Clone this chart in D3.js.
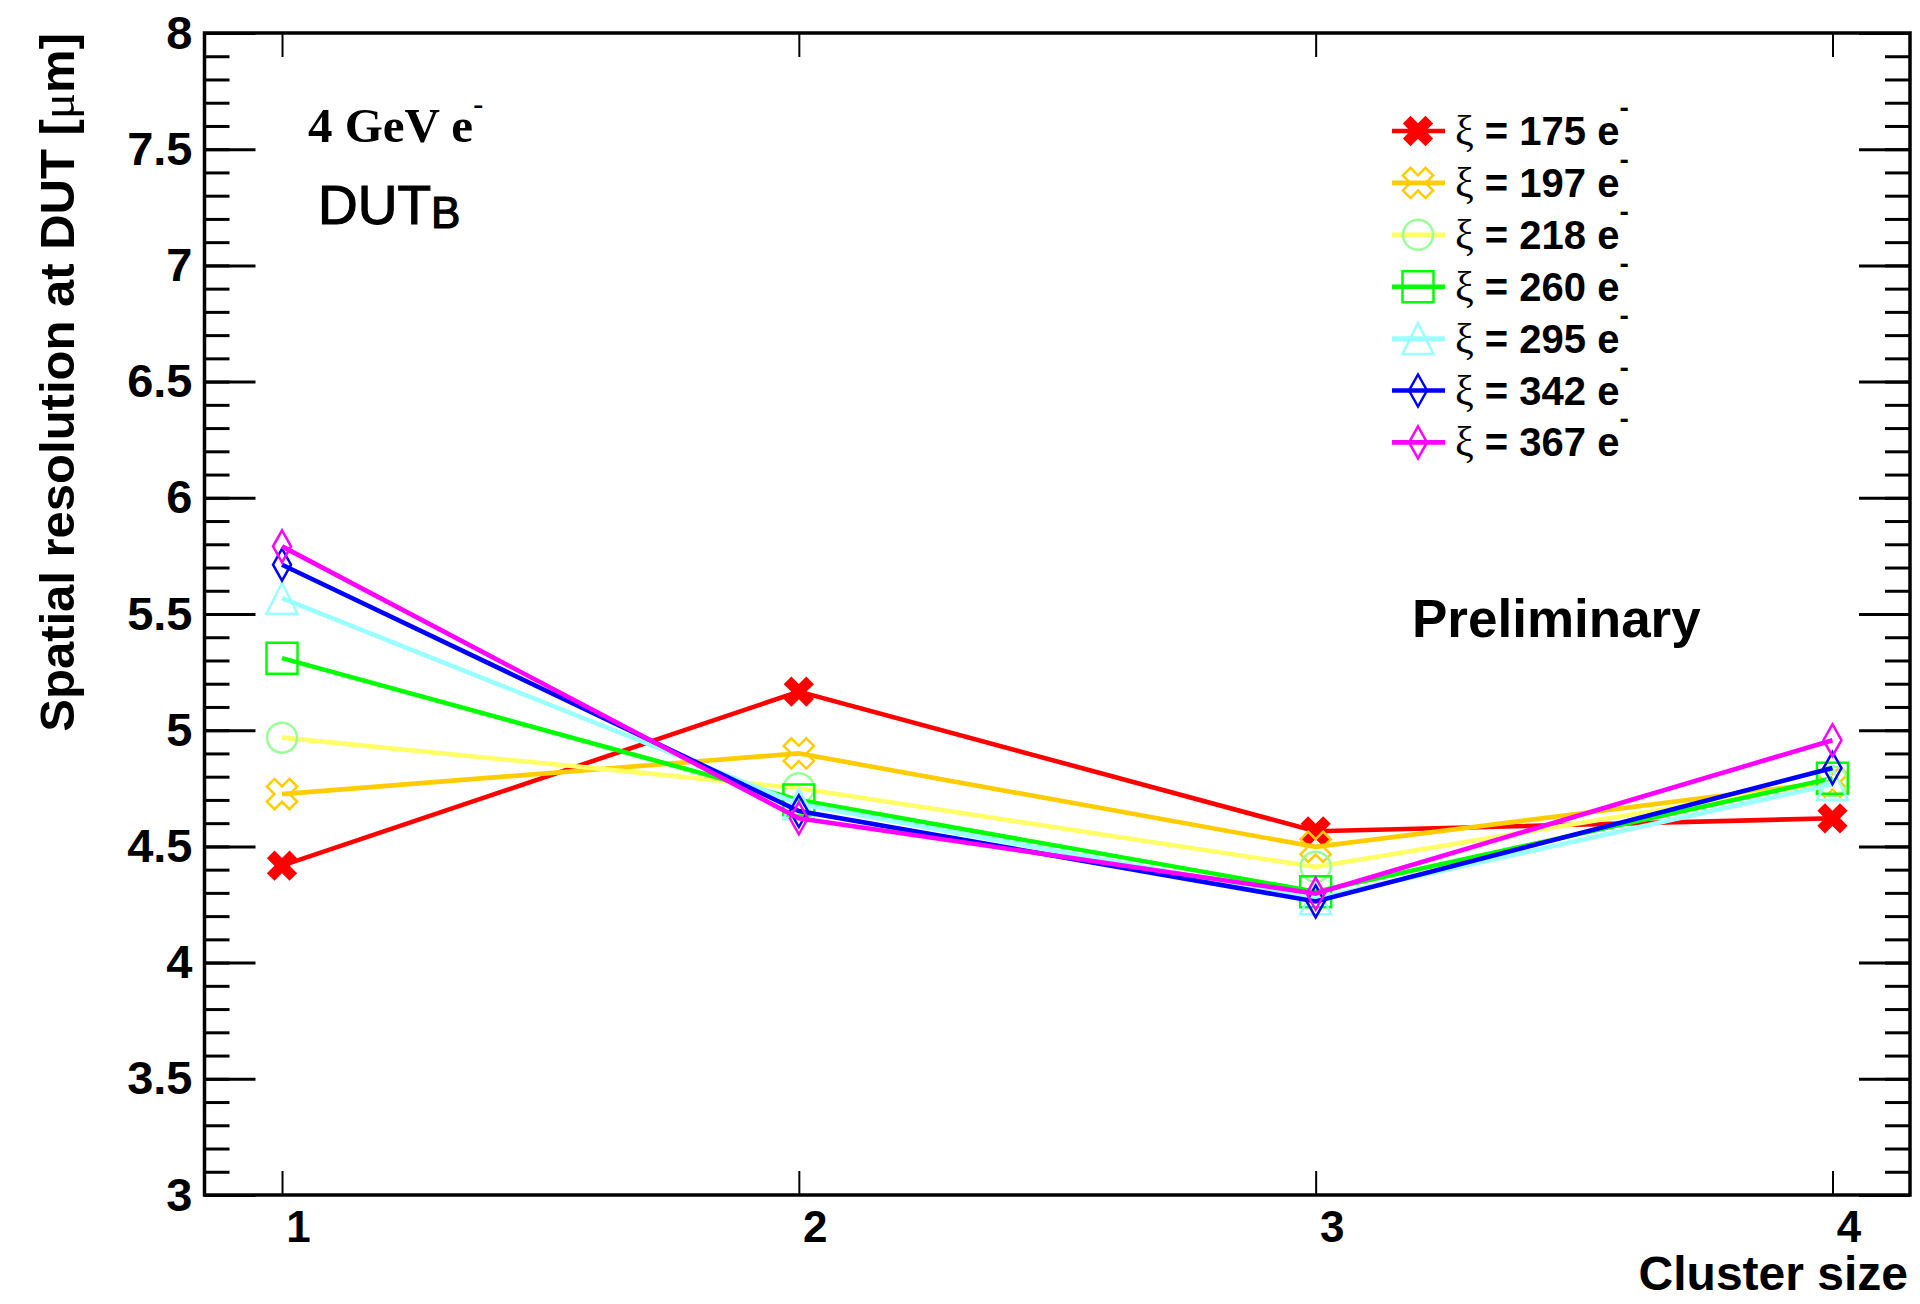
<!DOCTYPE html>
<html>
<head>
<meta charset="utf-8">
<script src="https://cdn.jsdelivr.net/npm/d3@7"></script>
<style>
body { margin: 0; background: #fff; }
</style>
</head>
<body>
<div id="chart"></div>
<script>
// cluster size on x, spatial resolution (um) on y
const clusterSizes = [1, 2, 3, 4];
const thresholds = ["175", "197", "218", "260", "295", "342", "367"];
const res175 = [4.417, 5.166, 4.565, 4.621];
const res197 = [4.725, 4.900, 4.498, 4.778];
const res218 = [4.968, 4.750, 4.412, 4.780];
const res260 = [5.310, 4.700, 4.305, 4.793];
const res295 = [5.568, 4.683, 4.275, 4.767];
const res342 = [5.712, 4.652, 4.263, 4.837];
const res367 = [5.791, 4.621, 4.297, 4.957];
const lineColors = ["#ff0000", "#ffcc00", "#ffff66", "#00ff00", "#99ffff", "#0000ff", "#ff00ff"];
const markerColors = ["#ff0000", "#ffcc00", "#99ff99", "#00ff00", "#99ffff", "#0000ff", "#ff00ff"];
const markerTypes = ["xfull", "xopen", "circle", "square", "triangle", "diamond", "diamond"];
const yTickValues = [3, 3.5, 4, 4.5, 5, 5.5, 6, 6.5, 7, 7.5, 8];
const yTickLabels = ["3", "3.5", "4", "4.5", "5", "5.5", "6", "6.5", "7", "7.5", "8"];
const xTickLabels = ["1", "2", "3", "4"];

const allRes = [res175, res197, res218, res260, res295, res342, res367];

const SANS = "'Liberation Sans', Arial, sans-serif";
const SERIF = "'Liberation Serif', 'Times New Roman', serif";

let svg = d3.select("#chart").append("svg").attr("width", 1920).attr("height", 1304);

let x_scale = d3.scaleLinear().domain([0.85, 4.15]).range([204.5, 1910]);
let y_scale = d3.scaleLinear().domain([3, 8]).range([1195, 33]);

function boldText(sel, size) {
  sel.style("font-family", SANS).style("font-weight", "bold").style("font-size", size + "px").attr("fill", "#000");
}

// y axis, left: minor then major ticks pointing inward
svg.append("g").attr("transform", "translate(204.5,0)")
  .call(d3.axisLeft(y_scale).tickValues(y_scale.ticks(50)).tickSizeInner(-25).tickSizeOuter(0).tickFormat(""))
  .call(g => g.selectAll("line").attr("stroke", "#000").attr("stroke-width", 3));
svg.append("g").attr("transform", "translate(204.5,0)")
  .call(d3.axisLeft(y_scale).tickValues(yTickValues).tickSizeInner(-51).tickSizeOuter(0).tickPadding(12)
    .tickFormat((d, i) => yTickLabels[i]))
  .call(g => g.selectAll("line").attr("stroke", "#000").attr("stroke-width", 3))
  .call(g => boldText(g.selectAll("text"), 47));

// y axis, right (mirror)
svg.append("g").attr("transform", "translate(1910,0)")
  .call(d3.axisRight(y_scale).tickValues(y_scale.ticks(50)).tickSizeInner(-25).tickSizeOuter(0).tickFormat(""))
  .call(g => g.selectAll("line").attr("stroke", "#000").attr("stroke-width", 3));
svg.append("g").attr("transform", "translate(1910,0)")
  .call(d3.axisRight(y_scale).tickValues(yTickValues).tickSizeInner(-51).tickSizeOuter(0).tickFormat(""))
  .call(g => g.selectAll("line").attr("stroke", "#000").attr("stroke-width", 3));

// x axis bottom and top
svg.append("g").attr("transform", "translate(0,1195)")
  .call(d3.axisBottom(x_scale).tickValues(clusterSizes).tickSizeInner(-24).tickSizeOuter(0).tickPadding(16)
    .tickFormat((d, i) => xTickLabels[i]))
  .call(g => g.selectAll("line").attr("stroke", "#000").attr("stroke-width", 2))
  .call(g => boldText(g.selectAll("text").attr("x", 16), 44));
svg.append("g").attr("transform", "translate(0,33)")
  .call(d3.axisTop(x_scale).tickValues(clusterSizes).tickSizeInner(-24).tickSizeOuter(0).tickFormat(""))
  .call(g => g.selectAll("line").attr("stroke", "#000").attr("stroke-width", 2));

svg.selectAll(".domain").remove();
// frame
svg.append("rect")
  .attr("x", x_scale(0.85)).attr("y", y_scale(8))
  .attr("width", x_scale(4.15) - x_scale(0.85)).attr("height", y_scale(3) - y_scale(8))
  .attr("fill", "none").attr("stroke", "#000").attr("stroke-width", 3.5);

// axis titles
svg.append("text")
  .attr("transform", "translate(74,33) rotate(-90)")
  .attr("text-anchor", "end")
  .call(t => boldText(t, 49))
  .call(t => {
    t.append("tspan").text("Spatial resolution at DUT [");
    t.append("tspan").style("font-family", SERIF).style("font-weight", "normal").text("μ");
    t.append("tspan").text("m]");
  });
svg.append("text").attr("x", 1908).attr("y", 1290).attr("text-anchor", "end")
  .call(t => boldText(t, 48)).text("Cluster size");

// markers
function markerPath(type) {
  const p = d3.path();
  if (type === "xfull" || type === "xopen") {
    const s = 16, a = 5.4;
    const pts = [[-a, -s], [a, -s], [a, -a], [s, -a], [s, a], [a, a], [a, s], [-a, s], [-a, a], [-s, a], [-s, -a], [-a, -a]];
    const c = Math.SQRT1_2;
    pts.forEach((q, i) => {
      const px = (q[0] - q[1]) * c, py = (q[0] + q[1]) * c;
      if (i === 0) p.moveTo(px, py); else p.lineTo(px, py);
    });
    p.closePath();
  } else if (type === "circle") {
    p.arc(0, 0, 15, 0, 2 * Math.PI);
  } else if (type === "square") {
    p.rect(-15.5, -15.5, 31, 31);
  } else if (type === "triangle") {
    p.moveTo(0, -15.5); p.lineTo(15.5, 15.5); p.lineTo(-15.5, 15.5); p.closePath();
  } else if (type === "diamond") {
    p.moveTo(0, -16); p.lineTo(9, 0); p.lineTo(0, 16); p.lineTo(-9, 0); p.closePath();
  }
  return p.toString();
}

function drawMarker(g, type, color, cx, cy) {
  g.append("path")
    .attr("d", markerPath(type))
    .attr("transform", "translate(" + cx + "," + cy + ")")
    .attr("fill", type === "xfull" ? color : "none")
    .attr("stroke", color)
    .attr("stroke-width", type === "xfull" ? 0 : 2.5)
    .attr("stroke-linejoin", "miter");
}

let line = d3.line()
  .x((d, i) => x_scale(clusterSizes[i]))
  .y(d => y_scale(d));

allRes.forEach((vals, k) => {
  const g = svg.append("g");
  g.append("path").datum(vals)
    .attr("d", line)
    .attr("fill", "none")
    .attr("stroke", lineColors[k])
    .attr("stroke-width", 4.6);
  vals.forEach((v, i) => drawMarker(g, markerTypes[k], markerColors[k], x_scale(clusterSizes[i]), y_scale(v)));
});

// legend
thresholds.forEach((lbl, k) => {
  const cy = 131 + k * 51.9;
  const g = svg.append("g");
  g.append("line").attr("x1", 1392).attr("x2", 1445).attr("y1", cy).attr("y2", cy)
    .attr("stroke", lineColors[k]).attr("stroke-width", 4.6);
  drawMarker(g, markerTypes[k], markerColors[k], 1418, cy);
  const t = g.append("text").attr("x", 1455).attr("y", cy + 14).call(s => boldText(s, 40));
  t.append("tspan").style("font-family", SERIF).style("font-weight", "normal").style("font-size", "42px").text("ξ");
  t.append("tspan").text(" = " + lbl + " e");
  t.append("tspan").attr("dy", -28).style("font-size", "28px").text("-");
});

// annotations
svg.append("text").attr("x", 308).attr("y", 142)
  .style("font-family", SERIF).style("font-weight", "bold").style("font-size", "49px")
  .call(t => {
    t.append("tspan").text("4 GeV e");
    t.append("tspan").attr("dy", -28).style("font-size", "30px").text("-");
  });
svg.append("text").attr("x", 318).attr("y", 224)
  .style("font-family", SANS).style("font-weight", "normal").style("font-size", "55px")
  .attr("stroke", "#000").attr("stroke-width", 1.2)
  .call(t => {
    t.append("tspan").text("DUT");
    t.append("tspan").attr("dy", 4).style("font-size", "44px").text("B");
  });
svg.append("text").attr("x", 1412).attr("y", 637).call(t => boldText(t, 53)).text("Preliminary");
</script>
</body>
</html>
